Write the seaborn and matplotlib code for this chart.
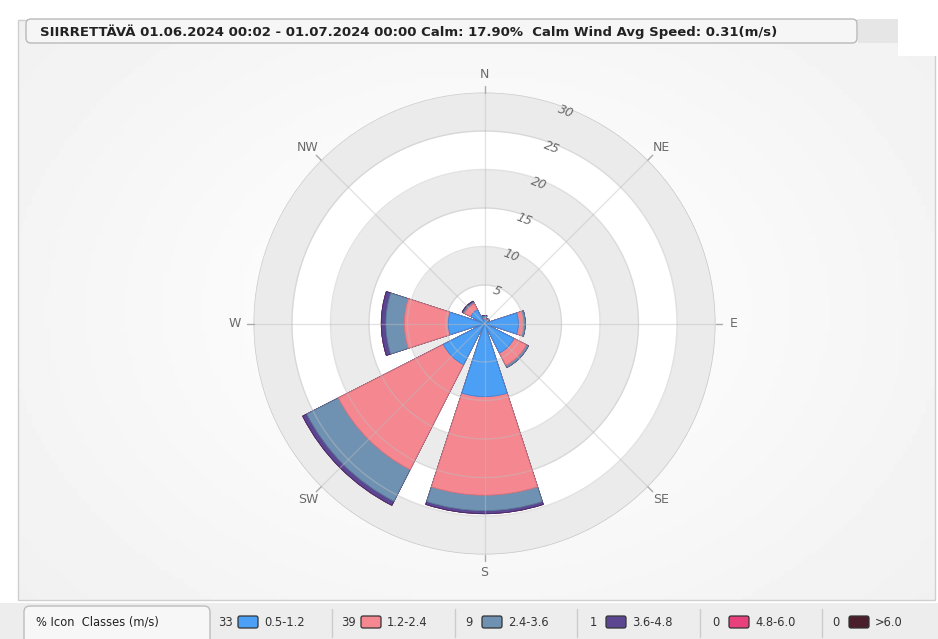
import matplotlib
matplotlib.use("Agg")
import matplotlib.pyplot as plt
from matplotlib.patches import Rectangle, FancyBboxPatch
import numpy as np
import pandas as pd
import seaborn as sns

# wind rose data (percent of time), 8 sectors
directions = ["N", "NE", "E", "SE", "S", "SW", "W", "NW"]
bearings = [0, 45, 90, 135, 180, 225, 270, 315]
speed_05_12 = [0.5, 0.4, 4.4, 4.3, 9.5, 6.0, 4.7, 2.0]
speed_12_24 = [0.15, 0.1, 0.6, 1.8, 12.8, 15.3, 5.7, 0.9]
speed_24_36 = [0.3, 0.2, 0.3, 0.3, 2.0, 4.6, 2.4, 0.2]
speed_36_48 = [0.1, 0.05, 0.0, 0.0, 0.4, 0.6, 0.6, 0.15]
speed_48_60 = [0, 0, 0, 0, 0, 0, 0, 0]
speed_60_up = [0, 0, 0, 0, 0, 0, 0, 0]

class_labels = ["0.5-1.2", "1.2-2.4", "2.4-3.6", "3.6-4.8", "4.8-6.0", ">6.0"]
class_pct = [33, 39, 9, 1, 0, 0]
class_colors = ["#4b9ff5", "#f4878f", "#6f92b2", "#5d4691", "#e83f7d", "#4a1f2b"]
class_edges = ["#3a84d6", "#d86f78", "#587a98", "#3f2d70", "#b02a5c", "#2e1019"]

ring_ticks = [5, 10, 15, 20, 25, 30]
title = ("SIIRRETTÄVÄ 01.06.2024 00:02 - 01.07.2024 00:00 Calm: 17.90%  "
         "Calm Wind Avg Speed: 0.31(m/s)")

sns.set_theme(style="white")
plt.rcParams["font.family"] = ["DejaVu Sans"]

W, H = 938, 639
fig = plt.figure(figsize=(W / 100, H / 100), dpi=100)

# ---- background / frame (pixel coordinates) ----
bg = fig.add_axes([0, 0, 1, 1], zorder=-5)
bg.set_xlim(0, W)
bg.set_ylim(H, 0)
bg.axis("off")
gx, gy = np.meshgrid(np.linspace(-1, 1, 200), np.linspace(-1, 1, 140))
dist = np.clip(np.sqrt(gx ** 2 * 0.7 + gy ** 2 * 0.5) - 0.35, 0, 1)
grad = 0.985 - 0.055 * dist
bg.imshow(grad, cmap="gray", vmin=0, vmax=1, extent=(18, 935, 600, 20),
          aspect="auto", zorder=0)
bg.add_patch(Rectangle((18, 20), 917, 580, fill=False, ec="#cfcfcf", lw=1, zorder=1))
bg.add_patch(Rectangle((858, 19), 40, 24, fc="#e6e6e6", ec="none", zorder=1))
bg.add_patch(Rectangle((898, 18), 40, 38, fc="white", ec="none", zorder=1))
bg.add_patch(FancyBboxPatch((26, 19), 831, 24, boxstyle="round,pad=0,rounding_size=5",
                            fc="#f6f6f6", ec="#b9b9b9", lw=1, zorder=2))
bg.text(40, 31.5, title, fontsize=9.5, fontweight="bold", color="#222222",
        va="center", ha="left", zorder=3)

# bottom legend strip
bg.add_patch(Rectangle((0, 603), W, 36, fc="#ededed", ec="none", zorder=1))
bg.add_patch(FancyBboxPatch((24, 606), 186, 40, boxstyle="round,pad=0,rounding_size=6",
                            fc="#f7f7f7", ec="#bdbdbd", lw=1, zorder=2))
bg.text(36, 622, "% Icon  Classes (m/s)", fontsize=8.3, color="#222222",
        va="center", ha="left", zorder=3)
num_x = [225, 348, 469, 593, 716, 836]
sep_x = [332, 455, 577, 700, 822]
for sx in sep_x:
    bg.plot([sx, sx], [609, 637], color="#cccccc", lw=1, zorder=2)
for nx, pct, lab, col in zip(num_x, class_pct, class_labels, class_colors):
    bg.text(nx, 622, str(pct), fontsize=8.3, color="#333333", va="center", ha="center", zorder=3)
    bg.add_patch(FancyBboxPatch((nx + 13, 616), 20, 12, boxstyle="round,pad=0,rounding_size=2",
                                fc=col, ec="#333333", lw=0.9, zorder=3))
    bg.text(nx + 39, 622, lab, fontsize=8.3, color="#333333", va="center", ha="left", zorder=3)

# ---- polar wind rose ----
cx, cy, rad = 484.5, 323.5, 231
ax = fig.add_axes([(cx - rad) / W, (H - cy - rad) / H, 2 * rad / W, 2 * rad / H],
                  projection="polar")
ax.set_theta_zero_location("N")
ax.set_theta_direction(-1)
ax.patch.set_alpha(0)
ax.grid(False)
ax.spines["polar"].set_visible(False)

theta_full = np.linspace(0, 2 * np.pi, 361)
for i, r0 in enumerate([0] + ring_ticks[:-1]):
    face = "#ffffff" if i % 2 == 0 else "#ebebeb"
    ax.fill_between(theta_full, r0, ring_ticks[i], color=face, lw=0, zorder=0.2)

theta = np.deg2rad(bearings)
layers = [speed_05_12, speed_12_24, speed_24_36, speed_36_48, speed_48_60, speed_60_up]
cum = np.cumsum(np.array(layers, dtype=float), axis=0)
df = pd.DataFrame({"theta": theta, "direction": directions})
for k in range(len(layers) - 1, -1, -1):
    df["value"] = cum[k]
    sns.barplot(data=df, x="theta", y="value", native_scale=True, width=0.8,
                color=class_colors[k], edgecolor=class_edges[k], linewidth=0.6,
                saturation=1, errorbar=None, ax=ax, zorder=1)

# grid on top, faint
for r in ring_ticks:
    ax.plot(theta_full, np.full_like(theta_full, r), color="#bfbfbf",
            lw=1, alpha=0.45 if r < 30 else 0.8, zorder=3)
for b in bearings:
    t = np.deg2rad(b)
    ax.plot([t, t], [0, 30], color="#bdbdbd", lw=0.9, alpha=0.45, zorder=3)
    ax.plot([t, t], [30, 30.9], color="#aaaaaa", lw=1, zorder=3, clip_on=False)
    ax.text(t, 32.4, directions[bearings.index(b)], fontsize=9, color="#6a6a6a",
            ha="center", va="center")

for r in ring_ticks:
    ax.text(np.deg2rad(21), r - 0.5, str(r), fontsize=9, color="#6a6a6a",
            rotation=-21, ha="center", va="center", style="italic", zorder=4)

ax.set_ylim(0, 30)
ax.set_xticks([])
ax.set_yticks([])
ax.set_xlabel("")
ax.set_ylabel("")

plt.savefig("out.png", dpi=100)
